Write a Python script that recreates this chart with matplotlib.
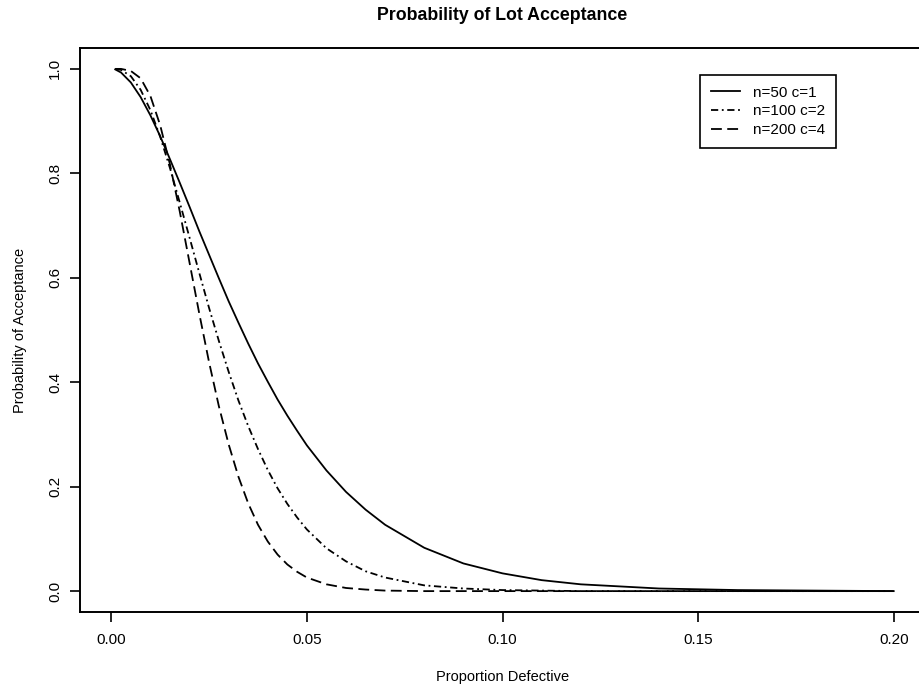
import matplotlib
matplotlib.use("Agg")
import matplotlib.pyplot as plt

plt.rcParams['font.family'] = ['Liberation Sans', 'DejaVu Sans']

# proportion defective
p = [0.001, 0.0025, 0.005, 0.0075, 0.01, 0.0125, 0.015, 0.0175, 0.02, 0.0225,
     0.025, 0.0275, 0.03, 0.0325, 0.035, 0.0375, 0.04, 0.0425, 0.045, 0.0475,
     0.05, 0.055, 0.06, 0.065, 0.07, 0.08, 0.09, 0.10, 0.11, 0.12, 0.14,
     0.16, 0.18, 0.20]

# probability of acceptance
pa_50_1 = [0.999, 0.993, 0.974, 0.946, 0.911, 0.871, 0.827, 0.782, 0.736, 0.689,
           0.644, 0.599, 0.555, 0.514, 0.474, 0.436, 0.401, 0.367, 0.336, 0.307,
           0.279, 0.231, 0.190, 0.156, 0.127, 0.083, 0.053, 0.034, 0.021, 0.013,
           0.005, 0.002, 0.001, 0.000]
pa_100_2 = [1.000, 0.998, 0.986, 0.960, 0.921, 0.870, 0.810, 0.744, 0.677, 0.609,
            0.542, 0.479, 0.420, 0.365, 0.316, 0.272, 0.232, 0.197, 0.167, 0.141,
            0.118, 0.082, 0.057, 0.038, 0.026, 0.011, 0.005, 0.002, 0.001, 0.000,
            0.000, 0.000, 0.000, 0.000]
pa_200_4 = [1.000, 1.000, 0.996, 0.982, 0.948, 0.892, 0.817, 0.727, 0.629, 0.531,
            0.438, 0.354, 0.281, 0.219, 0.168, 0.127, 0.095, 0.070, 0.051, 0.037,
            0.026, 0.013, 0.006, 0.003, 0.001, 0.000, 0.000, 0.000, 0.000, 0.000,
            0.000, 0.000, 0.000, 0.000]
labels = ["n=50 c=1", "n=100 c=2", "n=200 c=4"]

W, H = 919, 687
fig = plt.figure(figsize=(W / 100, H / 100), dpi=100)
# axes box in pixels: left 80, right 925 (runs off the page), top 48, bottom 612
ax = fig.add_axes([80 / W, 1 - 612 / H, (925 - 80) / W, (612 - 48) / H])

ax.plot(p, pa_50_1, color='black', lw=1.3, linestyle='-', label=labels[0])
ax.plot(p, pa_100_2, color='black', lw=1.3, linestyle=(0, (4, 2, 1, 2)), label=labels[1])
ax.plot(p, pa_200_4, color='black', lw=1.3, linestyle=(0, (6, 3)), label=labels[2])

ax.set_xlim(-0.008, 0.208)
ax.set_ylim(-0.04, 1.04)
ax.set_xticks([0.0, 0.05, 0.10, 0.15, 0.20])
ax.set_xticklabels(["0.00", "0.05", "0.10", "0.15", "0.20"])
ax.set_yticks([0.0, 0.2, 0.4, 0.6, 0.8, 1.0])
ax.set_yticklabels(["0.0", "0.2", "0.4", "0.6", "0.8", "1.0"], rotation=90, va='center')
ax.tick_params(direction='out', length=7, width=1.2, labelsize=11, pad=8)
ax.tick_params(axis='y', pad=6)
for s in ax.spines.values():
    s.set_linewidth(1.4)

ax.set_xlabel("Proportion Defective", fontsize=10.5, labelpad=17)
ax.set_ylabel("Probability of Acceptance", fontsize=10.5, labelpad=15)
fig.text((80 + 925) / 2 / W, 1 - 15 / H, "Probability of Lot Acceptance",
         ha='center', va='center', fontsize=12.8, fontweight='bold')

leg = ax.legend(loc='upper left', bbox_to_anchor=(700 / W, 1 - 75 / H),
                bbox_transform=fig.transFigure, fontsize=11, frameon=True,
                fancybox=False, edgecolor='black', framealpha=1,
                handlelength=1.9, handletextpad=0.9, labelspacing=0.3,
                borderpad=0.7, borderaxespad=0)
leg.get_frame().set_linewidth(1.2)

fig.savefig("out.png", dpi=100)
